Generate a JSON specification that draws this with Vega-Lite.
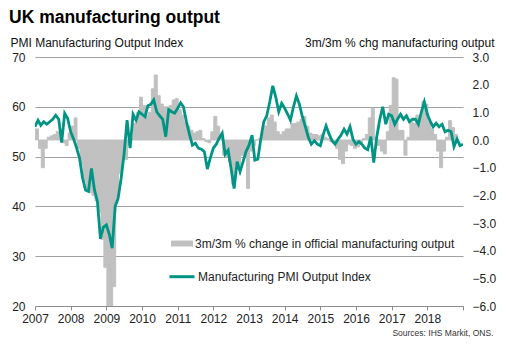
{
  "$schema": "https://vega.github.io/schema/vega-lite/v6.json",
  "width": 428,
  "height": 249,
  "autosize": {"type": "none"},
  "padding": {"left": 35, "top": 57, "right": 42, "bottom": 58},
  "background": "white",
  "title": {"text": "UK manufacturing output", "anchor": "start", "frame": "group", "fontSize": 17.5, "fontWeight": "bold", "font": "Liberation Sans", "color": "#000000", "dx": -26, "offset": 10},
  "config": {
    "font": "Liberation Sans",
    "view": {"stroke": null},
    "axis": {"labelFont": "Liberation Sans", "labelFontSize": 12, "labelColor": "#222222", "titleFont": "Liberation Sans", "titleFontSize": 12, "titleFontWeight": "normal", "titleColor": "#111111"},
    "legend": {"labelFont": "Liberation Sans", "labelFontSize": 12, "labelColor": "#222222", "labelLimit": 400, "padding": 0}
  },
  "data": {"values": [
    {"d":"2007-01-01","pmi":56,"chg":0.4},{"d":"2007-02-01","pmi":57.3,"chg":-0.3},{"d":"2007-03-01","pmi":56.3,"chg":-1.0},{"d":"2007-04-01","pmi":57,"chg":-0.3},{"d":"2007-05-01","pmi":56.5,"chg":0.1},{"d":"2007-06-01","pmi":57,"chg":0.15},{"d":"2007-07-01","pmi":57.5,"chg":0.2},{"d":"2007-08-01","pmi":58.3,"chg":0.3},{"d":"2007-09-01","pmi":57.5,"chg":0.2},{"d":"2007-10-01","pmi":52.8,"chg":-0.1},{"d":"2007-11-01","pmi":58.7,"chg":-0.2},{"d":"2007-12-01","pmi":57.7,"chg":0.25},
    {"d":"2008-01-01","pmi":55,"chg":0.5},{"d":"2008-02-01","pmi":53.5,"chg":0.8},{"d":"2008-03-01","pmi":51.8,"chg":-0.3},{"d":"2008-04-01","pmi":49.7,"chg":-0.9},{"d":"2008-05-01","pmi":45.8,"chg":-1.5},{"d":"2008-06-01","pmi":43.3,"chg":-1.8},{"d":"2008-07-01","pmi":43,"chg":-1.9},{"d":"2008-08-01","pmi":47.6,"chg":-2.0},{"d":"2008-09-01","pmi":43.3,"chg":-2.2},{"d":"2008-10-01","pmi":41,"chg":-2.6},{"d":"2008-11-01","pmi":33.5,"chg":-3.6},{"d":"2008-12-01","pmi":35.8,"chg":-4.6},
    {"d":"2009-01-01","pmi":36.3,"chg":-6.5},{"d":"2009-02-01","pmi":34.3,"chg":-6.3},{"d":"2009-03-01","pmi":31.6,"chg":-5.3},{"d":"2009-04-01","pmi":40,"chg":-2.2},{"d":"2009-05-01","pmi":41.6,"chg":-1.2},{"d":"2009-06-01","pmi":45.6,"chg":-0.6},{"d":"2009-07-01","pmi":50.5,"chg":-0.7},{"d":"2009-08-01","pmi":57.3,"chg":-0.2},{"d":"2009-09-01","pmi":51.7,"chg":0.1},{"d":"2009-10-01","pmi":58.5,"chg":0.6},{"d":"2009-11-01","pmi":57.3,"chg":1.0},{"d":"2009-12-01","pmi":59,"chg":1.55},
    {"d":"2010-01-01","pmi":58.5,"chg":1.25},{"d":"2010-02-01","pmi":58,"chg":0.9},{"d":"2010-03-01","pmi":60.2,"chg":1.0},{"d":"2010-04-01","pmi":60.5,"chg":1.85},{"d":"2010-05-01","pmi":61.4,"chg":2.35},{"d":"2010-06-01","pmi":59,"chg":1.6},{"d":"2010-07-01","pmi":58.2,"chg":1.3},{"d":"2010-08-01","pmi":57.5,"chg":1.2},{"d":"2010-09-01","pmi":54,"chg":1.2},{"d":"2010-10-01","pmi":59.4,"chg":1.25},{"d":"2010-11-01","pmi":59,"chg":1.45},{"d":"2010-12-01","pmi":58.7,"chg":1.5},
    {"d":"2011-01-01","pmi":59.7,"chg":1.1},{"d":"2011-02-01","pmi":60.8,"chg":0.9},{"d":"2011-03-01","pmi":60,"chg":0.65},{"d":"2011-04-01","pmi":57,"chg":0.5},{"d":"2011-05-01","pmi":54.5,"chg":0.35},{"d":"2011-06-01","pmi":52.3,"chg":0.25},{"d":"2011-07-01","pmi":52.7,"chg":0.3},{"d":"2011-08-01","pmi":51.7,"chg":0.35},{"d":"2011-09-01","pmi":51.5,"chg":0.05},{"d":"2011-10-01","pmi":51,"chg":-0.05},{"d":"2011-11-01","pmi":47.5,"chg":-0.1},{"d":"2011-12-01","pmi":49.7,"chg":0.3},
    {"d":"2012-01-01","pmi":51.7,"chg":0.85},{"d":"2012-02-01","pmi":52.5,"chg":0.5},{"d":"2012-03-01","pmi":53.7,"chg":0.2},{"d":"2012-04-01","pmi":54.7,"chg":-0.55},{"d":"2012-05-01","pmi":50.5,"chg":-0.6},{"d":"2012-06-01","pmi":51.3,"chg":-0.8},{"d":"2012-07-01","pmi":47.6,"chg":-1.6},{"d":"2012-08-01","pmi":43.6,"chg":-0.9},{"d":"2012-09-01","pmi":49,"chg":-0.9},{"d":"2012-10-01","pmi":47,"chg":-0.55},{"d":"2012-11-01","pmi":49,"chg":-0.5},{"d":"2012-12-01","pmi":51,"chg":-1.75},
    {"d":"2013-01-01","pmi":52.3,"chg":-0.4},{"d":"2013-02-01","pmi":54.3,"chg":-0.2},{"d":"2013-03-01","pmi":49.3,"chg":0.0},{"d":"2013-04-01","pmi":49.5,"chg":0.05},{"d":"2013-05-01","pmi":53.5,"chg":0.3},{"d":"2013-06-01","pmi":57,"chg":0.5},{"d":"2013-07-01","pmi":58.2,"chg":0.8},{"d":"2013-08-01","pmi":61,"chg":0.9},{"d":"2013-09-01","pmi":64.2,"chg":0.65},{"d":"2013-10-01","pmi":62,"chg":0.3},{"d":"2013-11-01","pmi":59,"chg":0.2},{"d":"2013-12-01","pmi":60.7,"chg":0.3},
    {"d":"2014-01-01","pmi":59.7,"chg":0.4},{"d":"2014-02-01","pmi":58.5,"chg":0.4},{"d":"2014-03-01","pmi":57.3,"chg":0.6},{"d":"2014-04-01","pmi":60,"chg":0.6},{"d":"2014-05-01","pmi":62.2,"chg":0.65},{"d":"2014-06-01","pmi":60.5,"chg":0.75},{"d":"2014-07-01","pmi":58,"chg":0.85},{"d":"2014-08-01","pmi":56,"chg":0.5},{"d":"2014-09-01","pmi":53.8,"chg":0.25},{"d":"2014-10-01","pmi":52.5,"chg":0.2},{"d":"2014-11-01","pmi":53.2,"chg":0.2},{"d":"2014-12-01","pmi":52.5,"chg":0.15},
    {"d":"2015-01-01","pmi":52.2,"chg":0.2},{"d":"2015-02-01","pmi":54.5,"chg":0.1},{"d":"2015-03-01","pmi":56.2,"chg":0.05},{"d":"2015-04-01","pmi":54.5,"chg":-0.05},{"d":"2015-05-01","pmi":53.2,"chg":-0.1},{"d":"2015-06-01","pmi":52.5,"chg":-0.3},{"d":"2015-07-01","pmi":53.5,"chg":-0.7},{"d":"2015-08-01","pmi":54.3,"chg":-0.85},{"d":"2015-09-01","pmi":55.5,"chg":-0.4},{"d":"2015-10-01","pmi":54.5,"chg":-0.15},{"d":"2015-11-01","pmi":56,"chg":-0.2},{"d":"2015-12-01","pmi":53.5,"chg":-0.3},
    {"d":"2016-01-01","pmi":52.5,"chg":-0.25},{"d":"2016-02-01","pmi":53,"chg":-0.1},{"d":"2016-03-01","pmi":52.5,"chg":0.05},{"d":"2016-04-01","pmi":51.7,"chg":0.2},{"d":"2016-05-01","pmi":51.4,"chg":0.8},{"d":"2016-06-01","pmi":54,"chg":1.15},{"d":"2016-07-01","pmi":48.8,"chg":0.1},{"d":"2016-08-01","pmi":54,"chg":-0.2},{"d":"2016-09-01","pmi":57.5,"chg":-0.4},{"d":"2016-10-01","pmi":60,"chg":-0.5},{"d":"2016-11-01","pmi":56.5,"chg":0.3},{"d":"2016-12-01","pmi":58.5,"chg":1.25},
    {"d":"2017-01-01","pmi":58.2,"chg":2.25},{"d":"2017-02-01","pmi":56.5,"chg":2.2},{"d":"2017-03-01","pmi":57.5,"chg":0.35},{"d":"2017-04-01","pmi":58.5,"chg":0.35},{"d":"2017-05-01","pmi":57.5,"chg":-0.55},{"d":"2017-06-01","pmi":58.2,"chg":0.1},{"d":"2017-07-01","pmi":57,"chg":0.65},{"d":"2017-08-01","pmi":57.5,"chg":0.6},{"d":"2017-09-01","pmi":57.5,"chg":0.9},{"d":"2017-10-01","pmi":56.5,"chg":0.85},{"d":"2017-11-01","pmi":59,"chg":1.4},{"d":"2017-12-01","pmi":61,"chg":1.3},
    {"d":"2018-01-01","pmi":58.5,"chg":0.65},{"d":"2018-02-01","pmi":57,"chg":0.4},{"d":"2018-03-01","pmi":56,"chg":0.2},{"d":"2018-04-01","pmi":56.7,"chg":-0.4},{"d":"2018-05-01","pmi":56,"chg":-1.0},{"d":"2018-06-01","pmi":56.5,"chg":-0.4},{"d":"2018-07-01","pmi":55,"chg":0.1},{"d":"2018-08-01","pmi":55.3,"chg":0.7},{"d":"2018-09-01","pmi":55,"chg":0.45},{"d":"2018-10-01","pmi":52,"chg":0.2},{"d":"2018-11-01","pmi":53.5,"chg":null},{"d":"2018-12-01","pmi":52.2,"chg":null},
    {"d":"2019-01-01","pmi":52.5,"chg":null}
  ]},
  "layer": [
    {
      "mark": {"type": "bar", "clip": true, "color": "#c0c0c0", "binSpacing": 0, "stroke": "#c0c0c0", "strokeWidth": 1},
      "encoding": {
        "x": {
          "field": "d", "timeUnit": "utcyearmonth", "type": "temporal",
          "scale": {"type": "utc", "domain": [{"year": 2007, "month": 1, "date": 1, "utc": true}, {"year": 2019, "month": 1, "date": 1, "utc": true}]},
          "axis": {
            "values": [{"year":2007,"month":1,"date":1,"utc":true},{"year":2008,"month":1,"date":1,"utc":true},{"year":2009,"month":1,"date":1,"utc":true},{"year":2010,"month":1,"date":1,"utc":true},{"year":2011,"month":1,"date":1,"utc":true},{"year":2012,"month":1,"date":1,"utc":true},{"year":2013,"month":1,"date":1,"utc":true},{"year":2014,"month":1,"date":1,"utc":true},{"year":2015,"month":1,"date":1,"utc":true},{"year":2016,"month":1,"date":1,"utc":true},{"year":2017,"month":1,"date":1,"utc":true},{"year":2018,"month":1,"date":1,"utc":true},{"year":2019,"month":1,"date":1,"utc":true}],
            "labelExpr": "utcFormat(datum.value, '%Y') == '2019' ? '' : utcFormat(datum.value, '%Y')",
            "tickSize": 4, "tickColor": "#8c8c8c", "domainColor": "#8c8c8c", "grid": false,
            "labelPadding": 3, "labelFlush": false, "labelOverlap": false,
            "title": "Sources: IHS Markit, ONS.", "titleFontSize": 8.5, "titleColor": "#333333",
            "titleX": 458, "titleY": 29, "titleAlign": "right", "titleBaseline": "alphabetic"
          }
        },
        "y": {
          "field": "chg", "type": "quantitative",
          "scale": {"domain": [-6, 3], "nice": false, "zero": false},
          "axis": {
            "orient": "right", "values": [-6, -5, -4, -3, -2, -1, 0, 1, 2, 3], "format": ".1f",
            "grid": false, "ticks": false, "domain": false, "labelPadding": 9,
            "title": "3m/3m % chg manufacturing output", "titleAngle": 0, "titleX": 31, "titleY": -11,
            "titleAlign": "right", "titleBaseline": "alphabetic"
          }
        },
        "fill": {
          "datum": "3m/3m % change in official manufacturing output",
          "scale": {"range": ["#c0c0c0"]},
          "legend": {"title": null, "orient": "none", "legendX": 136, "legendY": 175.5, "symbolType": "M-1,-0.27H1V0.27H-1Z", "symbolSize": 484, "symbolStrokeWidth": 0, "labelOffset": 2}
        }
      }
    },
    {
      "mark": {"type": "line", "strokeWidth": 2.8, "clip": true},
      "encoding": {
        "x": {
          "field": "d", "type": "temporal",
          "axis": {
            "values": [{"year":2007,"month":1,"date":1,"utc":true},{"year":2008,"month":1,"date":1,"utc":true},{"year":2009,"month":1,"date":1,"utc":true},{"year":2010,"month":1,"date":1,"utc":true},{"year":2011,"month":1,"date":1,"utc":true},{"year":2012,"month":1,"date":1,"utc":true},{"year":2013,"month":1,"date":1,"utc":true},{"year":2014,"month":1,"date":1,"utc":true},{"year":2015,"month":1,"date":1,"utc":true},{"year":2016,"month":1,"date":1,"utc":true},{"year":2017,"month":1,"date":1,"utc":true},{"year":2018,"month":1,"date":1,"utc":true},{"year":2019,"month":1,"date":1,"utc":true}],
            "labelExpr": "utcFormat(datum.value, '%Y') == '2019' ? '' : utcFormat(datum.value, '%Y')",
            "tickSize": 4, "tickColor": "#8c8c8c", "domainColor": "#8c8c8c", "grid": false,
            "labelPadding": 3, "labelFlush": false, "labelOverlap": false,
            "title": "Sources: IHS Markit, ONS.", "titleFontSize": 8.5, "titleColor": "#333333",
            "titleX": 458, "titleY": 29, "titleAlign": "right", "titleBaseline": "alphabetic"
          }
        },
        "y": {
          "field": "pmi", "type": "quantitative",
          "scale": {"domain": [20, 70], "nice": false, "zero": false},
          "axis": {
            "orient": "left", "values": [20, 30, 40, 50, 60, 70], "grid": true, "gridColor": "#a0a0a0",
            "ticks": false, "domain": false, "labelPadding": 10,
            "title": "PMI Manufacturing Output Index", "titleAngle": 0, "titleX": -25, "titleY": -11,
            "titleAlign": "left", "titleBaseline": "alphabetic"
          }
        },
        "stroke": {
          "datum": "Manufacturing PMI Output Index",
          "scale": {"range": ["#009484"]},
          "legend": {"title": null, "orient": "none", "legendX": 133, "legendY": 205.7, "symbolType": "stroke", "symbolSize": 625, "symbolStrokeWidth": 3, "labelOffset": 2}
        }
      }
    }
  ],
  "resolve": {"scale": {"y": "independent"}}
}
